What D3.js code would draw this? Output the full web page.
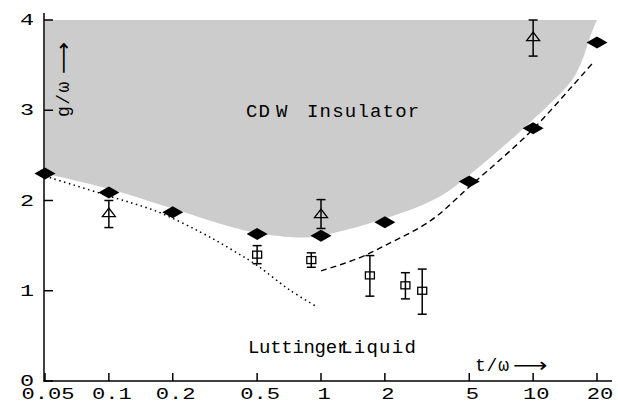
<!DOCTYPE html>
<html>
<head>
<meta charset="utf-8">
<script src="https://cdn.jsdelivr.net/npm/d3@7"></script>
<style>
  body { margin: 0; background: #fff; }
  text { font-family: "Courier New", "Liberation Mono", "Nimbus Mono PS", "FreeMono", Courier, monospace; fill: #000; }
  .arr { font-family: "DejaVu Sans", sans-serif; }
</style>
</head>
<body>
<script>
// tick values
var xTicks = [0.05, 0.1, 0.2, 0.5, 1, 2, 5, 10, 20];
var yTicks = [0, 1, 2, 3, 4];

// phase boundary (diamonds)
var diamondX = [0.05, 0.1, 0.2, 0.5, 1, 2, 5, 10, 20];
var diamondY = [2.30, 2.09, 1.87, 1.63, 1.61, 1.76, 2.21, 2.80, 3.75];

// triangles with error bars
var triX = [0.1, 1, 10];
var triY = [1.86, 1.85, 3.81];
var triLo = [1.70, 1.69, 3.60];
var triHi = [2.00, 2.01, 4.00];

// squares with error bars
var sqX = [0.5, 0.9, 1.7, 2.5, 3];
var sqY = [1.40, 1.34, 1.17, 1.06, 1.00];
var sqLo = [1.30, 1.26, 0.94, 0.91, 0.74];
var sqHi = [1.50, 1.42, 1.39, 1.20, 1.24];

// dotted curve (small t)
var dotX = [0.05, 0.1, 0.17, 0.27, 0.37, 0.5, 0.71, 0.96];
var dotY = [2.27, 2.05, 1.875, 1.65, 1.47, 1.28, 1.01, 0.82];

// dashed curve (large t)
var dashX = [1, 1.5, 2, 3.3, 5.1, 9.6, 15.2, 19.2];
var dashY = [1.22, 1.36, 1.50, 1.78, 2.17, 2.75, 3.26, 3.53];

// edge of the shaded CDW region
var edgeX = [0.05, 0.1, 0.2, 0.36, 0.5, 0.8, 1, 2, 3.6, 5.1, 9.6, 15.2, 17, 18.6, 20];
var edgeY = [2.30, 2.13, 1.91, 1.72, 1.64, 1.59, 1.61, 1.80, 2.04, 2.30, 2.86, 3.33, 3.55, 3.82, 4.0];

var width = 618, height = 404;

var svg = d3.select('body').append('svg').attr('width', width).attr('height', height);

var x = d3.scaleLog().domain([0.05, 20]).range([45, 597]);
var y = d3.scaleLinear().domain([0, 4]).range([381, 20]);

function pts(xs, ys) {
  return xs.map(function (v, i) { return [v, ys[i]]; });
}

// shaded region
var area = d3.area()
  .x(function (d) { return x(d[0]); })
  .y0(function (d) { return y(d[1]); })
  .y1(y(4))
  .curve(d3.curveCatmullRom.alpha(0.5));

svg.append('path')
  .datum(pts(edgeX, edgeY))
  .attr('d', area)
  .attr('fill', '#cccccc');

var line = d3.line()
  .x(function (d) { return x(d[0]); })
  .y(function (d) { return y(d[1]); })
  .curve(d3.curveCatmullRom.alpha(0.5));

svg.append('path')
  .datum(pts(dotX, dotY))
  .attr('d', line)
  .attr('fill', 'none')
  .attr('stroke', '#000')
  .attr('stroke-width', 1.5)
  .attr('stroke-dasharray', '1.5,3.5');

svg.append('path')
  .datum(pts(dashX, dashY))
  .attr('d', line)
  .attr('fill', 'none')
  .attr('stroke', '#000')
  .attr('stroke-width', 1.4)
  .attr('stroke-dasharray', '6,4');

// axes
var axisG = svg.append('g').attr('stroke', '#000').attr('stroke-width', 1.5);
axisG.append('line').attr('x1', 44).attr('x2', 44).attr('y1', 13).attr('y2', 381.5);
axisG.append('line').attr('x1', 43.5).attr('x2', 612).attr('y1', 381).attr('y2', 381);

axisG.selectAll('.xt').data(xTicks).enter().append('line')
  .attr('x1', function (d) { return x(d); })
  .attr('x2', function (d) { return x(d); })
  .attr('y1', 381).attr('y2', 373);

axisG.selectAll('.yt').data(yTicks).enter().append('line')
  .attr('x1', 44).attr('x2', 53)
  .attr('y1', function (d) { return y(d); })
  .attr('y2', function (d) { return y(d); });

svg.selectAll('.xl').data(xTicks).enter().append('text')
  .attr('transform', function (d) { return 'translate(' + (x(d) + 3) + ',399) scale(1.38,1)'; })
  .attr('text-anchor', 'middle')
  .style('font-size', '16px')
  .text(function (d) { return d; });

svg.selectAll('.yl').data(yTicks).enter().append('text')
  .attr('transform', function (d) { return 'translate(34,' + (y(d) + 5) + ') scale(1.38,1)'; })
  .attr('text-anchor', 'end')
  .style('font-size', '17px')
  .text(function (d) { return d; });

// error bars
function errorBars(xs, ys, lo, hi) {
  var g = svg.append('g').attr('stroke', '#000').attr('stroke-width', 1.5);
  var data = xs.map(function (v, i) { return { x: v, lo: lo[i], hi: hi[i] }; });
  g.selectAll('.v').data(data).enter().append('line')
    .attr('x1', function (d) { return x(d.x); }).attr('x2', function (d) { return x(d.x); })
    .attr('y1', function (d) { return y(d.lo); }).attr('y2', function (d) { return y(d.hi); });
  g.selectAll('.ct').data(data).enter().append('line')
    .attr('x1', function (d) { return x(d.x) - 4.5; }).attr('x2', function (d) { return x(d.x) + 4.5; })
    .attr('y1', function (d) { return y(d.hi); }).attr('y2', function (d) { return y(d.hi); });
  g.selectAll('.cb').data(data).enter().append('line')
    .attr('x1', function (d) { return x(d.x) - 4.5; }).attr('x2', function (d) { return x(d.x) + 4.5; })
    .attr('y1', function (d) { return y(d.lo); }).attr('y2', function (d) { return y(d.lo); });
}

errorBars(triX, triY, triLo, triHi);
errorBars(sqX, sqY, sqLo, sqHi);

// triangles
svg.selectAll('.tri').data(pts(triX, triY)).enter().append('path')
  .attr('d', function (d) {
    var cx = x(d[0]), cy = y(d[1]);
    return 'M' + (cx - 6.5) + ',' + (cy + 3.5) + 'L' + (cx + 6.5) + ',' + (cy + 3.5) + 'L' + cx + ',' + (cy - 5) + 'Z';
  })
  .attr('fill', 'none')
  .attr('stroke', '#000')
  .attr('stroke-width', 1.3);

// squares
svg.selectAll('.sq').data(pts(sqX, sqY)).enter().append('rect')
  .attr('x', function (d) { return x(d[0]) - 4.5; })
  .attr('y', function (d) { return y(d[1]) - 3.5; })
  .attr('width', 9).attr('height', 7)
  .attr('fill', 'none')
  .attr('stroke', '#000')
  .attr('stroke-width', 1.3);

// diamonds
svg.selectAll('.dia').data(pts(diamondX, diamondY)).enter().append('path')
  .attr('d', function (d) {
    var cx = x(d[0]), cy = y(d[1]);
    return 'M' + (cx - 10.5) + ',' + cy + 'L' + cx + ',' + (cy - 6) + 'L' + (cx + 10.5) + ',' + cy + 'L' + cx + ',' + (cy + 6) + 'Z';
  })
  .attr('fill', '#000');

// labels
var cdw = svg.append('text').attr('y', 117).style('font-size', '19px').style('letter-spacing', '1.2px');
cdw.append('tspan').attr('x', 246).text('CD');
cdw.append('tspan').attr('x', 276).text('W');
cdw.append('tspan').attr('x', 307).text('Insulator');

svg.append('text').attr('x', 248).attr('y', 353).style('font-size', '19px').style('letter-spacing', '-0.3px').text('Luttinger');
svg.append('text').attr('x', 341).attr('y', 353).style('font-size', '19px').style('letter-spacing', '1.3px').text('Liquid');

// x axis title with long arrow
svg.append('text').attr('x', 475).attr('y', 371).style('font-size', '18px').style('letter-spacing', '0.8px').text('t/ω');
svg.append('text').attr('class', 'arr')
  .attr('transform', 'translate(513,372) scale(1.2,1)')
  .style('font-size', '20px').text('⟶');

// y axis title with long arrow
svg.append('text')
  .attr('transform', 'translate(69,117) rotate(-90)')
  .style('font-size', '18px').style('letter-spacing', '1.5px')
  .text('g/ω');
svg.append('text').attr('class', 'arr')
  .attr('transform', 'translate(70,74) rotate(-90) scale(1.12,1)')
  .style('font-size', '20px').text('⟶');
</script>
</body>
</html>
